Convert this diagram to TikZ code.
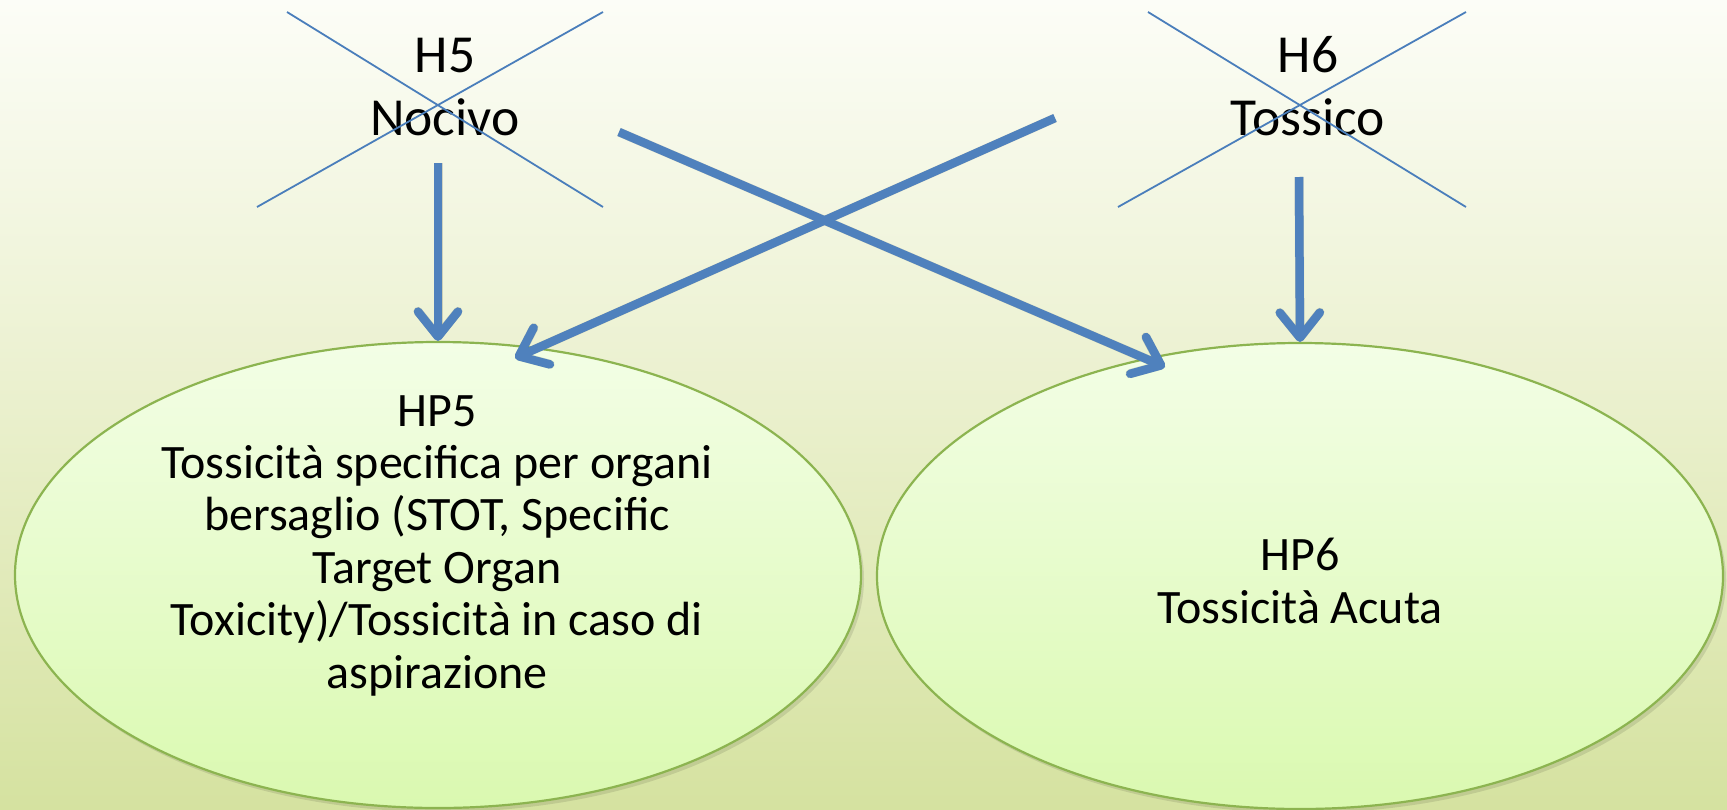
\documentclass[tikz,border=0pt]{standalone}
\usepackage{fontspec}
\setmainfont{Carlito}
\usetikzlibrary{shapes.geometric,arrows.meta}
\definecolor{bgtop}{RGB}{252,253,247}
\definecolor{bgmid}{RGB}{234,240,205}
\definecolor{bgbot}{RGB}{213,226,160}
\definecolor{elltop}{RGB}{243,254,230}
\definecolor{ellbot}{RGB}{218,249,176}
\definecolor{ellline}{RGB}{140,180,80}
\definecolor{arrowblue}{RGB}{79,129,189}
\definecolor{crossblue}{RGB}{74,126,187}
\tikzset{
  hpbox/.style={ellipse, draw=ellline, line width=2.2pt, top color=elltop, bottom color=ellbot,
    minimum width=846pt, minimum height=466pt, inner sep=0pt},
  hpshadow/.style={ellipse, fill=black, opacity=0.10, minimum width=846pt, minimum height=466pt, inner sep=0pt},
  hptext/.style={align=center, font=\fontsize{48}{52.4}\selectfont, inner sep=0pt, anchor=base},
  htext/.style={align=center, font=\fontsize{53.5}{63}\selectfont, inner sep=0pt, anchor=base},
  crossline/.style={draw=crossblue, line width=1.8pt},
  bigarrow/.style={draw=arrowblue, line width=8.5pt, -{Straight Barb[round,length=25pt,width=40pt]}},
  arrowshadow/.style={draw=black, opacity=0.15, line width=9pt, -{Straight Barb[round,length=25pt,width=40pt]}},
}
\begin{document}
\begin{tikzpicture}[x=1pt,y=-1pt]
\useasboundingbox (0,0) rectangle (1727,809);
\shade[top color=bgtop, bottom color=bgbot, middle color=bgmid] (0,0) rectangle (1727,809);
% ellipse shadows
\node[hpshadow] (hp5s) at (441,579) {};
\node[hpshadow] (hp6s) at (1303,580) {};
% ellipses
\node[hpbox] (hp5) at (438,575) {};
\node[hpbox] (hp6) at (1300,576) {};
% texts
\node[hptext] (hp5t) at (437,688) {HP5\\Tossicità specifica per organi\\bersaglio (STOT, Specific\\Target Organ\\Toxicity)/Tossicità in caso di\\aspirazione};
\node[hptext] (hp6t) at (1300,623) {HP6\\Tossicità Acuta};
\node[htext] (h5) at (445,135) {H5\\Nocivo};
\node[htext] (h6) at (1308,135) {H6\\Tossico};
% crosses
\coordinate (x5a) at (287,12); \coordinate (x5b) at (603,207);
\coordinate (x5c) at (257,207); \coordinate (x5d) at (603,12);
\coordinate (x6a) at (1148,12); \coordinate (x6b) at (1466,207);
\coordinate (x6c) at (1118,207); \coordinate (x6d) at (1466,12);
\draw[crossline] (x5a) -- (x5b);
\draw[crossline] (x5c) -- (x5d);
\draw[crossline] (x6a) -- (x6b);
\draw[crossline] (x6c) -- (x6d);
% arrow endpoints
\coordinate (a1s) at (438,163);
\coordinate (a2s) at (1299,177);
\coordinate (a3s) at (1055,118);
\coordinate (a3e) at (515,358);
\coordinate (a4s) at (619,132);
\coordinate (a4e) at (1165,367);
% arrow shadows
\begin{scope}[shift={(2,3)}]
\draw[arrowshadow] (a1s) -- (hp5.north);
\draw[arrowshadow] (a2s) -- (hp6.north);
\draw[arrowshadow] (a3s) -- (a3e);
\draw[arrowshadow] (a4s) -- (a4e);
\end{scope}
% arrows
\draw[bigarrow] (a1s) -- (hp5.north);
\draw[bigarrow] (a2s) -- (hp6.north);
\draw[bigarrow] (a3s) -- (a3e);
\draw[bigarrow] (a4s) -- (a4e);
\end{tikzpicture}
\end{document}
